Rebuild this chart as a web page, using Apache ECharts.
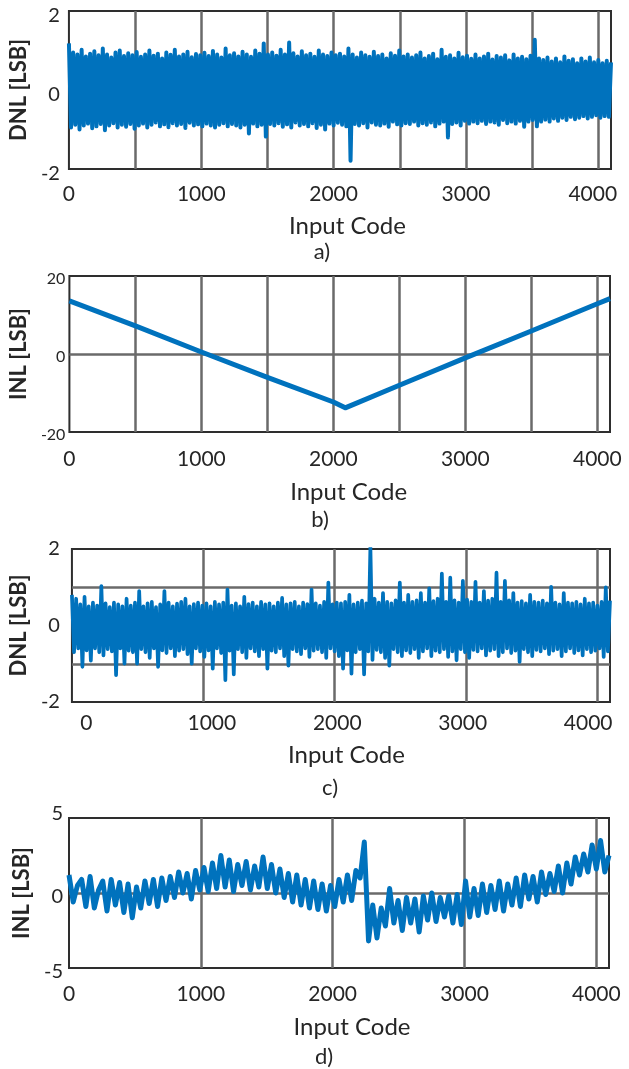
<!DOCTYPE html>
<html><head><meta charset="utf-8">
<script src="https://cdn.jsdelivr.net/npm/echarts@6/dist/echarts.min.js"></script>
<style>html,body{margin:0;padding:0;background:#fff}#c{width:629px;height:1069px}</style>
</head><body><div id="c"></div>
<script>
// ---------------- data ----------------
const CODE_MIN = 0, CODE_MAX = 4096;
const xLabelTicks = [0, 1000, 2000, 3000, 4000];
const sampleStep = 32;          // code spacing of the read samples
// a) DNL: upper-envelope samples at codes 0,32,..  lower-envelope samples at 16,48,..
const dnlAUpper = [1.18,0.95,0.9,1.02,0.85,0.92,0.98,0.88,1.05,0.9,0.82,0.95,1.0,0.86,0.93,0.88,
 0.96,0.84,0.9,1.0,0.87,0.92,0.8,0.95,0.89,1.02,0.85,0.9,0.97,0.83,0.91,0.88,
 0.94,0.86,0.99,0.9,0.82,1.05,0.88,0.93,0.85,0.97,0.9,0.84,1.0,0.92,1.18,0.9,
 0.95,0.87,1.02,0.9,1.2,0.93,0.85,0.98,0.88,0.92,0.84,1.0,0.9,0.86,0.95,0.88,
 0.92,0.85,1.05,0.9,0.82,0.95,0.88,0.84,0.97,0.86,0.9,0.8,0.93,0.87,1.0,0.85,
 0.9,0.82,0.88,0.95,0.8,0.86,0.92,0.78,1.02,0.84,0.88,0.8,0.94,0.83,0.87,0.79,
 0.9,0.8,0.85,0.92,0.77,0.86,0.82,0.88,0.75,0.9,0.8,0.84,0.78,0.87,1.27,0.8,
 0.76,0.82,0.72,0.8,0.7,0.85,0.74,0.78,0.68,0.8,0.72,0.82,0.7,0.76,0.68,0.74,0.7];
const dnlALower = [-0.95,-0.88,-1.0,-0.9,-0.85,-0.97,-0.92,-0.86,-1.02,-0.9,-0.84,-0.95,-0.88,-0.93,-0.86,-0.98,
 -0.9,-0.85,-0.95,-0.88,-0.82,-0.92,-0.87,-0.94,-0.84,-0.9,-0.86,-0.96,-0.83,-0.9,-0.87,-0.92,
 -0.85,-0.9,-0.95,-0.88,-0.84,-0.92,-0.86,-0.9,-0.95,-0.88,-1.1,-0.85,-0.92,-0.88,-1.18,-0.86,
 -0.9,-0.84,-0.93,-0.87,-0.95,-0.82,-0.9,-0.86,-0.92,-0.84,-0.96,-0.88,-1.0,-0.85,-0.9,-0.83,
 -0.88,-0.92,-1.79,-0.86,-0.9,-0.84,-0.95,-0.82,-0.88,-0.9,-0.85,-0.93,-0.8,-0.87,-0.9,-0.84,
 -0.86,-0.8,-0.9,-0.84,-0.88,-0.82,-0.92,-0.85,-0.8,-1.2,-0.86,-0.82,-0.9,-0.78,-0.85,-0.8,
 -0.84,-0.78,-0.86,-0.8,-0.82,-0.88,-0.76,-0.84,-0.8,-0.85,-0.78,-0.93,-0.8,-0.76,-0.92,-0.8,
 -0.75,-0.8,-0.72,-0.78,-0.7,-0.76,-0.68,-0.74,-0.7,-0.66,-0.72,-0.68,-0.64,-0.7,-0.66,-0.68];
// b) INL
const inlBCodes  = [0, 500, 1000, 1500, 2000, 2090, 2500, 3000, 3500, 4000, 4096];
const inlBValues = [13.6, 7.2, 0.5, -6.0, -12.3, -13.8, -8.0, -1.0, 5.9, 12.9, 14.2];
// c) DNL
const dnlCUpper = [0.8,0.7,0.55,0.75,0.5,0.6,0.52,1.03,0.58,0.48,0.6,0.55,0.5,0.7,0.52,0.6,
 0.9,0.5,0.58,0.62,0.48,0.55,0.9,0.6,0.5,0.57,0.62,0.7,0.5,0.56,0.6,0.52,
 0.58,0.5,0.62,0.55,0.6,0.94,0.52,0.58,0.5,0.75,0.56,0.6,0.5,0.62,0.55,0.58,
 0.5,0.6,0.72,0.55,0.58,0.62,0.5,0.6,0.56,0.94,0.58,0.52,0.62,1.12,0.55,0.6,
 0.58,0.62,0.8,0.55,0.6,0.65,0.58,2.06,0.7,0.6,0.85,0.62,0.58,0.66,1.12,0.6,
 0.8,0.62,0.66,0.85,0.6,0.97,0.64,0.7,1.36,0.62,1.25,0.66,0.6,1.17,0.68,0.62,
 1.14,0.6,0.9,0.65,0.7,1.38,0.62,1.17,0.66,0.85,0.6,0.64,0.58,0.8,0.62,0.6,
 0.65,0.58,1.01,0.6,0.55,0.85,0.6,0.58,0.62,0.55,0.7,0.58,0.6,0.52,0.62,1.0,0.65];
const dnlCLower = [-0.7,-0.6,-1.08,-0.65,-0.92,-0.6,-0.7,-0.78,-0.62,-0.68,-1.3,-0.6,-1.0,-0.66,-0.7,-1.0,
 -0.62,-0.7,-0.85,-0.6,-1.08,-0.65,-0.72,-0.6,-0.8,-0.66,-0.62,-0.75,-1.0,-0.6,-0.68,-0.82,
 -0.65,-1.13,-0.6,-0.72,-1.43,-0.66,-1.28,-0.62,-0.7,-0.85,-0.6,-0.68,-0.8,-0.62,-1.13,-0.66,
 -0.7,-0.6,-0.8,-1.05,-0.62,-0.68,-0.75,-0.6,-0.82,-0.66,-0.62,-0.7,-0.85,-0.6,-0.68,-0.8,
 -1.13,-0.65,-1.26,-0.7,-0.62,-1.28,-0.68,-0.9,-0.64,-0.7,-0.85,-1.05,-0.62,-0.7,-0.8,-0.65,
 -0.72,-0.62,-0.85,-0.68,-0.6,-0.8,-0.66,-0.7,-0.62,-0.82,-0.68,-0.91,-0.62,-0.7,-0.85,-0.64,
 -0.68,-0.6,-0.78,-0.66,-0.62,-0.8,-0.7,-0.6,-0.72,-0.66,-0.95,-0.62,-0.7,-0.8,-0.64,-0.68,
 -0.6,-0.75,-0.66,-0.62,-0.8,-0.68,-0.6,-0.72,-0.65,-0.78,-0.62,-0.7,-0.66,-0.6,-0.82,-0.68];
// d) INL samples at codes 0,32,...,4096
const inlDValues = [1.2,-0.6,0.5,0.9,-0.9,1.1,-1.0,0.2,0.8,-1.2,0.9,-0.8,0.7,-1.3,0.6,-1.65,
 0.4,-1.0,0.8,-0.7,0.9,-0.9,1.0,-0.5,1.1,-0.3,1.4,0.0,1.3,-0.4,1.5,0.2,
 1.7,0.1,2.0,0.3,2.5,0.4,2.2,0.1,1.9,0.5,2.1,0.2,1.8,0.4,2.4,0.3,
 1.9,0.0,1.6,-0.3,1.3,-0.6,1.2,-0.8,0.9,-1.0,0.8,-1.1,0.6,-1.2,0.5,-0.9,
 0.9,-0.6,1.2,-0.5,1.5,1.0,3.4,-3.2,-0.8,-3.0,-1.0,-2.2,0.3,-2.0,-0.5,-2.5,
 -0.3,-2.0,-0.4,-2.6,-0.2,-1.8,0.0,-1.9,-0.3,-1.6,-0.2,-2.0,-0.1,-2.1,0.8,-1.6,
 0.3,-1.5,0.6,-1.3,0.5,-1.1,0.8,-1.2,0.6,-0.8,1.0,-0.9,1.2,-0.4,1.1,-0.6,
 1.4,-0.1,1.3,0.1,1.8,0.0,2.0,0.6,2.4,1.2,2.6,1.4,3.2,1.6,3.5,1.4,2.5];

// ---------------- build series data ----------------
function interleave(up, lo) {
  const out = [];
  for (let i = 0; i < up.length; i++) {
    out.push([i * sampleStep, up[i]]);
    if (i < lo.length) out.push([i * sampleStep + sampleStep / 2, lo[i]]);
  }
  return out;
}
const dataA = interleave(dnlAUpper, dnlALower);
const dataB = inlBCodes.map((c, i) => [c, inlBValues[i]]);
const dataC = interleave(dnlCUpper, dnlCLower);
const dataD = inlDValues.map((v, i) => [i * sampleStep, v]);

// ---------------- styles ----------------
const FONT = 'Lato';
const TXT = '#262626';
const BLUE = '#0072BD';
const gridLine = { show: true, showMinLine: false, showMaxLine: false, lineStyle: { color: '#6a6a6a', width: 2.5 } };
const gridBox = { show: true, borderColor: '#2e2e2e', borderWidth: 2, backgroundColor: '#fff' };
const k1000 = v => (v % 1000 === 0 ? String(v) : '');

function xAxisBase(grid, interval, margin, nameGap, namePad, showLabel, fmt, rich) {
  return {
    gridIndex: grid, type: 'value', min: CODE_MIN, max: CODE_MAX, interval: interval,
    axisLine: { show: false }, axisTick: { show: false },
    splitLine: gridLine,
    axisLabel: { show: showLabel, formatter: fmt || k1000, rich: rich || {}, fontFamily: FONT, fontSize: 21, color: TXT, margin: margin },
    name: showLabel ? 'Input Code' : '', nameLocation: 'middle', nameGap: nameGap,
    nameTextStyle: { fontFamily: FONT, fontSize: 24, color: TXT, padding: [0, 0, 0, namePad] }
  };
}
function yAxisBase(grid, min, max, interval, name, fs, margin, nameGap, fmt, rich) {
  return {
    gridIndex: grid, type: 'value', min: min, max: max, interval: interval,
    axisLine: { show: false }, axisTick: { show: false },
    splitLine: gridLine,
    axisLabel: { fontFamily: FONT, fontSize: fs, color: TXT, margin: margin,
                 formatter: fmt, rich: rich },
    name: name, nameLocation: 'middle', nameGap: nameGap, nameRotate: 90,
    nameTextStyle: { fontFamily: FONT, fontSize: 22, fontWeight: 'bold', color: TXT }
  };
}
function richY(fs, padTop, padBottom) {
  return { d: { fontFamily: FONT, fontSize: fs, color: TXT, padding: [padTop, 0, 0, 0] },
           u: { fontFamily: FONT, fontSize: fs, color: TXT, padding: [0, 0, padBottom, 0] } };
}
function lineSeries(x, y, data, w) {
  return { type: 'line', xAxisIndex: x, yAxisIndex: y, data: data, showSymbol: false, symbol: 'none',
           sampling: null, lineStyle: { color: BLUE, width: w, join: 'round' }, animation: false, z: 3 };
}

const chart = echarts.init(document.getElementById('c'), null, { renderer: 'canvas' });
chart.setOption({
  animation: false,
  backgroundColor: '#fff',
  grid: [
    Object.assign({ left: 63, top: 11, width: 548, height: 158 }, gridBox),
    Object.assign({ left: 68, top: 276, width: 542, height: 156 }, gridBox),
    Object.assign({ left: 68, top: 549, width: 542, height: 153 }, gridBox),
    Object.assign({ left: 69, top: 818, width: 540, height: 150 }, gridBox)
  ],
  xAxis: [
    xAxisBase(0, 500, 15, 45, 15, true,
      v => (v === 4000 ? '{r|4000}' : k1000(v)),
      { r: { fontFamily: FONT, fontSize: 21, color: TXT, padding: [0, 11, 0, 0] } }),
    xAxisBase(1, 500, 17, 48, 18, true),
    xAxisBase(2, 1000, 10, 41, 11, false),
    { gridIndex: 2, type: 'value', min: -115, max: 4174, position: 'bottom',
      axisLine: { show: false }, axisTick: { show: false }, splitLine: { show: false },
      axisLabel: { customValues: xLabelTicks, formatter: v => String(v), fontFamily: FONT, fontSize: 21, color: TXT, margin: 11 },
      name: 'Input Code', nameLocation: 'middle', nameGap: 41,
      nameTextStyle: { fontFamily: FONT, fontSize: 24, color: TXT, padding: [0, 0, 0, 11] } },
    xAxisBase(3, 1000, 16, 47, 26, true)
  ],
  yAxis: [
    yAxisBase(0, -2, 2, 2, 'DNL [LSB]', 20, 9, 31, v => '{d|' + v + '}', richY(20, 9, 0)),
    yAxisBase(1, -20, 20, 20, 'INL [LSB]', 16, 4, 33, v => '{d|' + v + '}', richY(16, 5, 0)),
    yAxisBase(2, -2, 2, 1, 'DNL [LSB]', 20, 12, 33, v => (v % 2 === 0 ? '{d|' + v + '}' : ''), richY(20, 0, 0)),
    yAxisBase(3, -5, 5, 5, 'INL [LSB]', 20, 6, 36, v => (v === 5 ? '{u|5}' : '{d|' + v + '}'), richY(20, 8, 9))
  ],
  series: [
    lineSeries(0, 0, dataA, 4.0),
    lineSeries(1, 1, dataB, 5),
    lineSeries(2, 2, dataC, 3.7),
    lineSeries(4, 3, dataD, 5)
  ],
  graphic: [
    { type: 'text', x: 322, y: 252, style: { text: 'a)', font: '22px Lato', fill: TXT, textAlign: 'center', textVerticalAlign: 'middle' } },
    { type: 'text', x: 320, y: 520, style: { text: 'b)', font: '22px Lato', fill: TXT, textAlign: 'center', textVerticalAlign: 'middle' } },
    { type: 'text', x: 330, y: 788, style: { text: 'c)', font: '22px Lato', fill: TXT, textAlign: 'center', textVerticalAlign: 'middle' } },
    { type: 'text', x: 324, y: 1057, style: { text: 'd)', font: '22px Lato', fill: TXT, textAlign: 'center', textVerticalAlign: 'middle' } }
  ]
});
</script></body></html>
